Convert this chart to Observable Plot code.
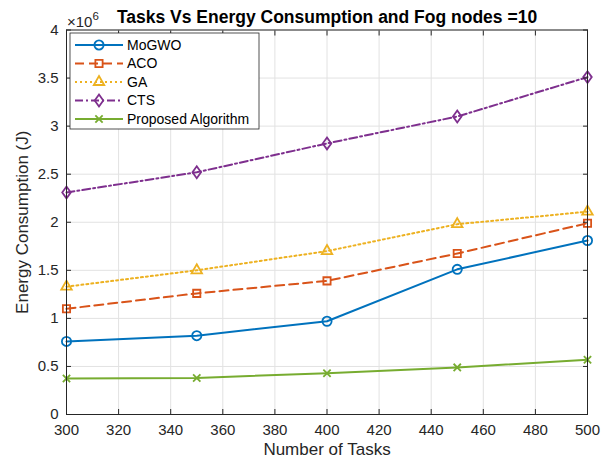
<!DOCTYPE html>
<html>
<head>
<meta charset="utf-8">
<script src="https://cdn.jsdelivr.net/npm/d3@7"></script>
<script src="https://cdn.jsdelivr.net/npm/@observablehq/plot@0.6"></script>
<style>
  html, body { margin: 0; padding: 0; background: #fff; }
  #chart { width: 607px; height: 462px; }
</style>
</head>
<body>
<div id="chart"></div>
<script>
// ---- data (energy values in units of 10^6 J) ----
const tasks = [300, 350, 400, 450, 500];
const seriesNames = ["MoGWO", "ACO", "GA", "CTS", "Proposed Algorithm"];
const mogwo = [0.76, 0.82, 0.97, 1.51, 1.81];
const aco = [1.10, 1.26, 1.39, 1.675, 1.99];
const ga = [1.33, 1.50, 1.70, 1.98, 2.11];
const cts = [2.31, 2.52, 2.82, 3.10, 3.51];
const proposed = [0.375, 0.38, 0.43, 0.49, 0.57];
const xTicks = [300, 320, 340, 360, 380, 400, 420, 440, 460, 480, 500];
const yTicks = [0, 0.5, 1, 1.5, 2, 2.5, 3, 3.5, 4];
const yTickLabels = ["0", "0.5", "1", "1.5", "2", "2.5", "3", "3.5", "4"];
const titleText = "Tasks Vs Energy Consumption and Fog nodes =10";
const xLabel = "Number of Tasks";
const yLabel = "Energy Consumption (J)";

const values = [mogwo, aco, ga, cts, proposed];
const rows = seriesNames.flatMap((name, i) => tasks.map((t, j) => ({name, tasks: t, energy: values[i][j]})));

// tall diamond like MATLAB's
const tallDiamond = {
  draw(ctx, size) {
    const r = Math.sqrt(size) * 0.62;
    const w = r * 0.72;
    ctx.moveTo(0, -r); ctx.lineTo(w, 0); ctx.lineTo(0, r); ctx.lineTo(-w, 0); ctx.closePath();
  }
};

const styles = {
  "MoGWO": {color: "#0072BD", dash: null, symbol: "circle", r: 4.6},
  "ACO": {color: "#D95319", dash: "9,5", symbol: "square2", r: 4.6},
  "GA": {color: "#EDB120", dash: "2,3", symbol: "triangle2", r: 5.0},
  "CTS": {color: "#7E2F8E", dash: "8,3,2,3", symbol: tallDiamond, r: 5.4},
  "Proposed Algorithm": {color: "#77AC30", dash: null, symbol: "times", r: 3.4}
};

const font = "'Liberation Sans', Arial, Helvetica, sans-serif";
const tickFont = 15;
const labelFont = 17;

const marks = [
  Plot.gridX(xTicks, {stroke: "#e2e2e2", strokeOpacity: 1}),
  Plot.gridY(yTicks, {stroke: "#e2e2e2", strokeOpacity: 1}),
];
for (const name of seriesNames) {
  const s = styles[name];
  const data = rows.filter(d => d.name === name);
  marks.push(Plot.line(data, {x: "tasks", y: "energy", stroke: s.color, strokeWidth: 2, strokeDasharray: s.dash}));
}
for (const name of seriesNames) {
  const s = styles[name];
  const data = rows.filter(d => d.name === name);
  marks.push(Plot.dot(data, {x: "tasks", y: "energy", stroke: s.color, fill: "none", strokeWidth: 1.8, symbol: () => s.symbol, r: s.r}));
}
marks.push(
  Plot.frame({stroke: "#262626", strokeWidth: 1}),
  Plot.axisX(xTicks, {anchor: "bottom", tickSize: -5, tickPadding: 15, stroke: "#262626", fill: "#262626", fontSize: tickFont, label: null, tickFormat: d => String(d)}),
  Plot.axisX(xTicks, {anchor: "top", tickSize: -5, stroke: "#262626", label: null, tickFormat: () => ""}),
  Plot.axisY(yTicks, {anchor: "left", tickSize: -5, tickPadding: 13, stroke: "#262626", fill: "#262626", fontSize: tickFont, label: null, tickFormat: d => yTickLabels[yTicks.indexOf(d)]}),
  Plot.axisY(yTicks, {anchor: "right", tickSize: -5, stroke: "#262626", label: null, tickFormat: () => ""}),
  Plot.text([titleText], {frameAnchor: "top", textAnchor: "middle", lineAnchor: "middle", dy: -13, fontSize: 17.5, fontWeight: "bold", fill: "#000"}),
  Plot.text([xLabel], {frameAnchor: "bottom", textAnchor: "middle", lineAnchor: "middle", dy: 35, fontSize: labelFont, fill: "#262626"}),
  Plot.text([yLabel], {frameAnchor: "left", textAnchor: "middle", lineAnchor: "middle", rotate: -90, dx: -44, fontSize: labelFont, fill: "#262626"})
);

const chart = Plot.plot({
  width: 607,
  height: 462,
  marginLeft: 66,
  marginRight: 20,
  marginTop: 29.5,
  marginBottom: 48,
  style: {fontFamily: font, background: "#fff", overflow: "visible"},
  x: {domain: [300, 500], axis: null},
  y: {domain: [0, 4], axis: null},
  marks
});
document.getElementById("chart").appendChild(chart);

// ---- exponent label and legend ----
const svg = d3.select(chart);
const expo = svg.append("text")
  .attr("x", 67).attr("y", 27).attr("text-anchor", "start")
  .attr("font-family", font).attr("font-size", tickFont).attr("fill", "#262626");
expo.append("tspan").text("\u00d710");
expo.append("tspan").attr("dy", -7).attr("font-size", 11.5).text("6");

const lg = svg.append("g").attr("font-family", font).attr("text-anchor", "start");
const lx = 70, ly = 33, lw = 189, lh = 96;
lg.append("rect").attr("x", lx).attr("y", ly).attr("width", lw).attr("height", lh)
  .attr("fill", "#fff").attr("stroke", "#262626").attr("stroke-width", 0.8);
const d3sym = {circle: d3.symbolCircle, square2: d3.symbolSquare2, triangle2: d3.symbolTriangle2, times: d3.symbolTimes};
seriesNames.forEach((name, i) => {
  const s = styles[name];
  const y = 45 + i * 18.5;
  lg.append("line").attr("x1", 75).attr("x2", 123).attr("y1", y).attr("y2", y)
    .attr("stroke", s.color).attr("stroke-width", 2)
    .attr("stroke-dasharray", s.dash);
  const sym = typeof s.symbol === "string" ? d3sym[s.symbol] : s.symbol;
  lg.append("path").attr("transform", `translate(99,${y})`)
    .attr("d", d3.symbol(sym, Math.PI * s.r * s.r)())
    .attr("fill", "none").attr("stroke", s.color).attr("stroke-width", 1.8);
  lg.append("text").attr("x", 127).attr("y", y).attr("dy", "0.35em")
    .attr("font-size", 14).attr("fill", "#000").text(name);
});
</script>
</body>
</html>
